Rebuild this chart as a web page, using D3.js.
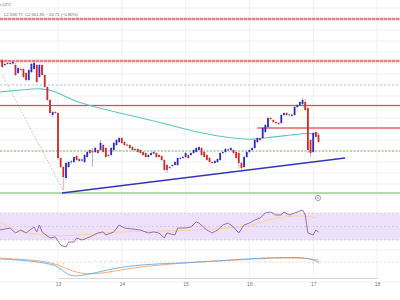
<!DOCTYPE html>
<html>
<head>
<meta charset="utf-8">
<script src="https://cdn.jsdelivr.net/npm/d3@7"></script>
<style>
  html, body { margin: 0; padding: 0; background: #fff; }
  svg { display: block; font-family: "Liberation Sans", "DejaVu Sans", sans-serif; }
</style>
</head>
<body>
<div class="chart"></div>
<script>
// hourly candles, hour 0 = day 13 00:00 (UTC)
const startHour = -21
// [open, high, low, close]
const candles = [
  [2710, 2712, 2694, 2696], [2700, 2704, 2698, 2702], [2703, 2706, 2701, 2704], [2704, 2706, 2700, 2702],
  [2703, 2708, 2701, 2706], [2700, 2704, 2678, 2680], [2684, 2696, 2682, 2694], [2692, 2694, 2688, 2690],
  [2692, 2694, 2674, 2676], [2684, 2686, 2666, 2670], [2670, 2692, 2668, 2690], [2686, 2704, 2684, 2702],
  [2692, 2708, 2690, 2704], [2700, 2702, 2664, 2666], [2676, 2702, 2674, 2700], [2700, 2702, 2678, 2680],
  [2680, 2682, 2654, 2656], [2656, 2658, 2628, 2630], [2630, 2632, 2600, 2604], [2600, 2608, 2596, 2606],
  [2606, 2608, 2602, 2604],
  // day 13
  [2604, 2606, 2510, 2514], [2514, 2516, 2494, 2496], [2496, 2498, 2450, 2476], [2474, 2506, 2470, 2504],
  [2496, 2508, 2494, 2506], [2506, 2510, 2502, 2507], [2506, 2518, 2504, 2516], [2518, 2520, 2508, 2510],
  [2512, 2514, 2506, 2508], [2509, 2513, 2506, 2511], [2506, 2522, 2504, 2520], [2516, 2528, 2514, 2526],
  [2530, 2532, 2522, 2524], [2526, 2534, 2496, 2527], [2526, 2536, 2524, 2534], [2530, 2532, 2522, 2524],
  [2530, 2550, 2528, 2544], [2540, 2542, 2524, 2526], [2534, 2536, 2514, 2516], [2520, 2522, 2516, 2518],
  [2520, 2536, 2518, 2534], [2530, 2546, 2528, 2544], [2540, 2552, 2538, 2550], [2546, 2556, 2544, 2554],
  // day 14
  [2554, 2556, 2542, 2544], [2546, 2548, 2538, 2540], [2541, 2543, 2537, 2539], [2540, 2542, 2532, 2534],
  [2536, 2538, 2528, 2530], [2532, 2534, 2528, 2530], [2532, 2534, 2524, 2526], [2530, 2532, 2522, 2524],
  [2526, 2528, 2518, 2520], [2524, 2526, 2514, 2516], [2516, 2522, 2514, 2520], [2520, 2526, 2518, 2524],
  [2523, 2528, 2521, 2526], [2524, 2526, 2514, 2516], [2520, 2522, 2514, 2516], [2518, 2520, 2508, 2510],
  [2510, 2512, 2488, 2490], [2500, 2502, 2484, 2490], [2495, 2498, 2492, 2496], [2498, 2502, 2496, 2500],
  [2500, 2508, 2498, 2506], [2500, 2516, 2498, 2514], [2513, 2516, 2511, 2514], [2514, 2518, 2512, 2516],
  // day 15
  [2516, 2526, 2514, 2524], [2520, 2522, 2512, 2514], [2520, 2526, 2518, 2524], [2524, 2532, 2522, 2530],
  [2526, 2536, 2524, 2534], [2530, 2538, 2528, 2536], [2534, 2536, 2518, 2520], [2526, 2528, 2514, 2516],
  [2520, 2522, 2508, 2510], [2514, 2516, 2504, 2506], [2506, 2508, 2502, 2504], [2504, 2510, 2502, 2508],
  [2506, 2514, 2504, 2512], [2510, 2526, 2508, 2524], [2524, 2528, 2522, 2526], [2526, 2534, 2524, 2532],
  [2530, 2533, 2528, 2531], [2530, 2536, 2528, 2534], [2530, 2532, 2522, 2524], [2526, 2528, 2512, 2514],
  [2524, 2526, 2492, 2504], [2504, 2506, 2490, 2494], [2496, 2518, 2494, 2516], [2516, 2528, 2514, 2526],
  // day 16
  [2526, 2532, 2524, 2530], [2530, 2536, 2528, 2534], [2534, 2552, 2532, 2550], [2546, 2556, 2544, 2554],
  [2554, 2556, 2548, 2550], [2554, 2576, 2552, 2574], [2566, 2582, 2564, 2580], [2576, 2596, 2574, 2594],
  [2594, 2596, 2590, 2592], [2590, 2592, 2584, 2586], [2586, 2588, 2582, 2584], [2584, 2586, 2580, 2582],
  [2584, 2602, 2582, 2600], [2600, 2606, 2598, 2604], [2604, 2606, 2598, 2600], [2600, 2603, 2598, 2601],
  [2601, 2603, 2596, 2598], [2600, 2618, 2598, 2616], [2616, 2622, 2614, 2620], [2620, 2628, 2618, 2626],
  [2622, 2634, 2620, 2630], [2626, 2632, 2608, 2610], [2614, 2616, 2524, 2530], [2550, 2552, 2516, 2524],
  // day 17
  [2526, 2566, 2524, 2564], [2566, 2568, 2554, 2556], [2560, 2564, 2544, 2546]
]

// 100 hourly SMA, read at [hour, price]
const sma = [[-22, 2646], [-14, 2650], [-6, 2654], [-1, 2648], [5, 2630], [11, 2620], [23, 2604],
  [38, 2586], [53, 2564], [65, 2554], [73, 2550], [80, 2556], [88, 2560], [94, 2564], [98, 2562]]

// horizontal levels
const resistance = [2792, 2708, 2619]
const shortResistance = 2574
const fibLevel = 2660
const support = 2528
const lowLevel = 2444
// trend line [hour, price]
const trendLine = [[1.5, 2444], [108, 2514]]
const fibDiagonal = [[-21, 2680], [2.3, 2446]]

// RSI [hour, value] and its average
const rsi = [[-22, 44.8], [-18, 47.8], [-16, 40.4], [-14, 44.8], [-12, 40.4], [-9, 49.3], [-8, 41.9],
  [-7, 52.2], [-6, 41.9], [-3, 33], [-1, 34.5], [1, 22.6], [3, 19.6], [4, 27], [6, 27], [7, 33],
  [9, 30], [12, 34.5], [15, 40.4], [17, 41.9], [18, 37.4], [21, 41.9], [23, 52.2], [25, 47.8],
  [28, 46.3], [31, 44.8], [34, 40.4], [36, 41.9], [38, 40.4], [40, 33], [41, 40.4], [44, 37.4],
  [45, 47.8], [48, 47.8], [50, 49.3], [52, 56.7], [53, 55.2], [56, 44.8], [58, 40.4], [60, 44.8],
  [62, 52.2], [64, 55.2], [66, 49.3], [68, 40.4], [70, 52.2], [72, 55.2], [74, 59.6], [76, 62.6],
  [78, 70], [80, 71.5], [82, 67], [84, 67], [85, 71.5], [87, 67], [89, 70], [92, 74.4], [93, 67],
  [94, 40.4], [96, 37.4], [97, 44.8], [98, 41.9]]
const rsiMa = [[-22, 56.7], [-14, 40], [-3, 37], [3, 35.5], [16, 40], [28, 43], [41, 43], [53, 45],
  [72, 49], [78, 59.6], [85, 64], [91, 67], [97, 63]]

// MACD [hour, value]
const macd = [[-22, 6], [-14, 4], [-7, 0], [-1, -6], [1.5, -16], [4.5, -28], [8, -28], [14, -22],
  [23, -10], [35, -4], [47, -2], [53, 0], [65, 4], [76, 8], [91, 10], [95, 6], [98, 0]]
const macdSignal = [[-22, 8], [-10, 4], [-3, 0], [3, -12], [8, -24], [16, -24], [27, -12], [42, -4],
  [53, 0], [68, 4], [79, 8], [93, 8], [98, 4]]
const macdHist = [[-10, -2], [-8, -3], [-6, -4], [-4, -5], [-2, -6], [0, -6], [2, -5], [12, 2], [14, 3],
  [16, 3], [18, 4], [20, 4], [22, 3], [24, 3], [26, 2], [74, 2], [76, 3], [78, 3], [80, 2], [94, -3],
  [96, -4], [98, -4]]

const dayTicks = [13, 14, 15, 16, 17, 18]
const headerLine = "L2,559.77  C2,561.35  −20.71 (−0.80%)"

const width = 400, height = 300
const svg = d3.select(".chart").append("svg")
  .attr("width", width).attr("height", height)

const hourToDate = h => new Date(Date.UTC(2024, 0, 13) + h * 3600e3)
const x = d3.scaleUtc()
  .domain([new Date(Date.UTC(2024, 0, 13)), new Date(Date.UTC(2024, 0, 18))])
  .range([58, 377])
const xh = h => x(hourToDate(h))

const y = d3.scaleLinear().domain([2430, 2830]).range([200, 0])
const yRsi = d3.scaleLinear().domain([30, 70]).range([240, 213])
const yMacd = d3.scaleLinear().domain([-30, 12]).range([277, 256])

// grid
const grid = svg.append("g").attr("stroke", "#eeeeee").attr("stroke-width", 0.8)
grid.selectAll(".hg").data(d3.range(2440, 2830, 22))
  .join("line").attr("x1", 0).attr("x2", width)
  .attr("y1", d => y(d)).attr("y2", d => y(d))
grid.selectAll(".vg").data(dayTicks)
  .join("line")
  .attr("x1", d => x(new Date(Date.UTC(2024, 0, d)))).attr("x2", d => x(new Date(Date.UTC(2024, 0, d))))
  .attr("y1", 0).attr("y2", 278)
grid.selectAll(".lg").data([250, 282])
  .join("line").attr("x1", 0).attr("x2", width).attr("y1", d => d).attr("y2", d => d)

// RSI band
svg.append("rect").attr("x", 0).attr("width", width)
  .attr("y", yRsi(70)).attr("height", yRsi(30) - yRsi(70))
  .attr("fill", "#ede1fa")
svg.selectAll(".rsiLvl").data([70, 50, 30])
  .join("line").attr("x1", 0).attr("x2", width)
  .attr("y1", d => yRsi(d)).attr("y2", d => yRsi(d))
  .attr("stroke", "#c9c3d3").attr("stroke-width", 0.7).attr("stroke-dasharray", "2,2")

// levels
const hline = (price, color, w, dash, x1 = 0) => svg.append("line")
  .attr("x1", x1).attr("x2", width).attr("y1", y(price)).attr("y2", y(price))
  .attr("stroke", color).attr("stroke-width", w).attr("stroke-dasharray", dash)

hline(resistance[0], "#f7c8cc", 3, null)
hline(resistance[0], "#d23a3a", 1, "3,1")
hline(resistance[1], "#f7c8cc", 3, null)
hline(resistance[1], "#d23a3a", 1, "3,1")
hline(resistance[2], "#fad4d6", 2, null)
hline(resistance[2], "#e0393e", 0.9, null)
hline(shortResistance, "#f0a8ac", 2, null, xh(75))
hline(shortResistance, "#dd6066", 0.8, null, xh(75))
hline(fibLevel, "#a9c4bf", 0.8, "2,2")
hline(support, "#7fb069", 1, "2,1.5")
hline(lowLevel, "#b5d9ad", 2.2, null)

// fib diagonal
svg.append("line")
  .attr("x1", xh(fibDiagonal[0][0])).attr("y1", y(fibDiagonal[0][1]))
  .attr("x2", xh(fibDiagonal[1][0])).attr("y2", y(fibDiagonal[1][1]))
  .attr("stroke", "#aaaaaa").attr("stroke-width", 0.7).attr("stroke-dasharray", "1.5,1.5")

// SMA
svg.append("path").datum(sma)
  .attr("d", d3.line().curve(d3.curveBasis).x(d => xh(d[0])).y(d => y(d[1])))
  .attr("fill", "none").attr("stroke", "#5ec6c1").attr("stroke-width", 1.1)

// trend line
svg.append("line")
  .attr("x1", xh(trendLine[0][0])).attr("y1", y(trendLine[0][1]))
  .attr("x2", xh(trendLine[1][0])).attr("y2", y(trendLine[1][1]))
  .attr("stroke", "#3535b5").attr("stroke-width", 1.5)

// candles
const candleData = candles.map((c, i) => ({h: startHour + i, o: c[0], hi: c[1], lo: c[2], c: c[3]}))
const up = "#2b2bd0", down = "#d22a2a"
const cg = svg.append("g")
cg.selectAll(".wick").data(candleData)
  .join("line").attr("class", "wick")
  .attr("x1", d => xh(d.h)).attr("x2", d => xh(d.h))
  .attr("y1", d => y(d.hi)).attr("y2", d => y(d.lo))
  .attr("stroke", d => d.c >= d.o ? up : down).attr("stroke-width", 0.6).attr("stroke-opacity", 0.6)
cg.selectAll(".body").data(candleData)
  .join("rect").attr("class", "body")
  .attr("x", d => xh(d.h) - 0.9).attr("width", 1.8)
  .attr("y", d => y(Math.max(d.o, d.c)))
  .attr("height", d => Math.max(0.8, Math.abs(y(d.o) - y(d.c))))
  .attr("fill", d => d.c >= d.o ? up : down)

// small marker icon
svg.append("circle").attr("cx", 318).attr("cy", 198).attr("r", 2.6)
  .attr("fill", "#fff").attr("stroke", "#8a6bb0").attr("stroke-width", 0.7)
svg.append("circle").attr("cx", 318).attr("cy", 198).attr("r", 0.8).attr("fill", "#8a6bb0")

// RSI lines
svg.append("path").datum(rsiMa)
  .attr("d", d3.line().curve(d3.curveBasis).x(d => xh(d[0])).y(d => yRsi(d[1])))
  .attr("fill", "none").attr("stroke", "#f3d79c").attr("stroke-width", 1)
svg.append("path").datum(rsi)
  .attr("d", d3.line().x(d => xh(d[0])).y(d => yRsi(d[1])))
  .attr("fill", "none").attr("stroke", "#9260ad").attr("stroke-width", 0.9)

// MACD
svg.append("line").attr("x1", 0).attr("x2", width).attr("y1", yMacd(0)).attr("y2", yMacd(0))
  .attr("stroke", "#cfcfcf").attr("stroke-width", 0.6).attr("stroke-dasharray", "2,2")
svg.selectAll(".hist").data(macdHist)
  .join("line")
  .attr("x1", d => xh(d[0])).attr("x2", d => xh(d[0]))
  .attr("y1", yMacd(0)).attr("y2", d => yMacd(d[1]))
  .attr("stroke", d => d[1] >= 0 ? "#b7d9c8" : "#f0c0c0").attr("stroke-width", 0.7)
svg.append("path").datum(macdSignal)
  .attr("d", d3.line().curve(d3.curveBasis).x(d => xh(d[0])).y(d => yMacd(d[1])))
  .attr("fill", "none").attr("stroke", "#f2a46c").attr("stroke-width", 0.9)
svg.append("path").datum(macd)
  .attr("d", d3.line().curve(d3.curveBasis).x(d => xh(d[0])).y(d => yMacd(d[1])))
  .attr("fill", "none").attr("stroke", "#6fa8dc").attr("stroke-width", 0.9)

// x axis
const xAxis = d3.axisBottom(x)
  .tickValues(dayTicks.map(d => new Date(Date.UTC(2024, 0, d))))
  .tickFormat(d3.utcFormat("%-d"))
  .tickSize(0)
svg.append("g").attr("transform", "translate(0,278)")
  .call(xAxis)
  .call(g => g.select(".domain").attr("stroke", "#d8d8d8"))
  .call(g => g.selectAll("text").attr("fill", "#777").attr("font-size", 5).attr("dy", "0.9em"))

// header
svg.append("text").attr("x", -1).attr("y", 6).attr("font-size", 4.2).attr("fill", "#666").text("e UTC")
svg.append("text").attr("x", 4).attr("y", 15.5).attr("font-size", 4.2).attr("fill", "#666")
  .attr("xml:space", "preserve").text(headerLine)
</script>
</body>
</html>
